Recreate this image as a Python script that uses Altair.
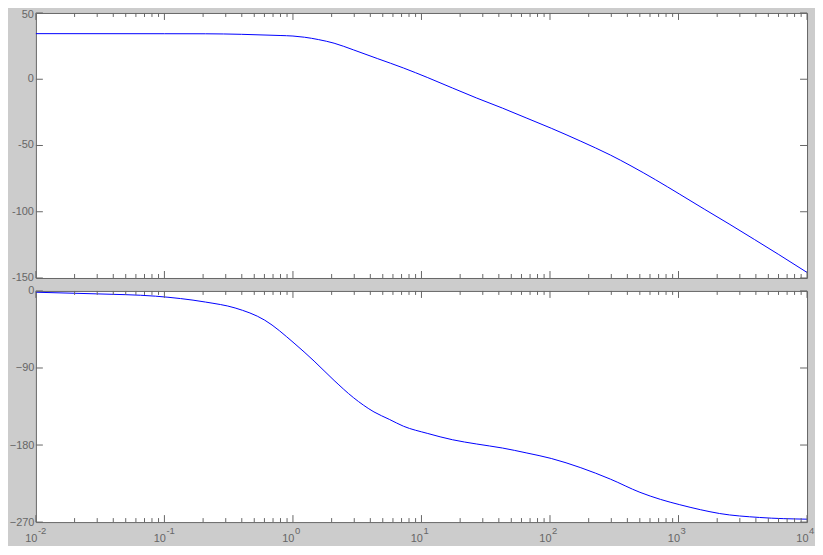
import altair as alt
import pandas as pd

# ---- data ----
mag_freq = [0.01, 0.1, 0.209, 0.398, 0.794, 1.0, 1.23, 1.585, 2.09, 2.95, 4.57, 7.24,
            11.2, 17.4, 26.9, 42.7, 66.1, 102.3, 173.8, 295, 427, 661, 1023, 1585,
            2512, 3890, 6026, 10000]
mag_db = [34.4, 34.35, 34.3, 33.9, 33.0, 32.6, 31.7, 29.9, 27.2, 22.2, 15.5, 8.5,
          1.2, -6.6, -14.2, -21.8, -29.4, -37.0, -46.8, -57.2, -65.4, -75.8, -86.8, -98.0,
          -109.6, -120.9, -132.3, -145.8]

ph_freq = [0.01, 0.0295, 0.0851, 0.209, 0.355, 0.603, 1.02, 1.46, 2.09, 2.95, 4.27, 5.62,
           7.24, 11.2, 17.4, 26.9, 42.7, 66.1, 102.3, 173.8, 295, 501, 724, 1023, 1479,
           2089, 4266, 10000]
ph_deg = [-1.5, -3.4, -6.1, -13.0, -19.9, -34.1, -60.9, -81.9, -104.5, -124.5, -141.3, -150.0,
          -158.0, -166.5, -173.8, -178.8, -183.5, -189.3, -195.7, -206.5, -219.8, -235.2, -243.5,
          -249.7, -255.5, -260.0, -264.6, -266.6]

decades = [0.01, 0.1, 1, 10, 100, 1000, 10000]
exponents = ["-2", "-1", "0", "1", "2", "3", "4"]
minor_mult = [2, 3, 4, 5, 6, 7, 8, 9]
mag_ticks = [50, 0, -50, -100, -150]
ph_ticks = [0, -90, -180, -270]

# ---- tables ----
mag_df = pd.DataFrame({"f": mag_freq, "v": mag_db})
ph_df = pd.DataFrame({"f": ph_freq, "v": ph_deg})
major_df = pd.DataFrame({"f": decades})
minor_df = pd.DataFrame({"f": [m * d for d in decades[:-1] for m in minor_mult]})
lab_df = pd.DataFrame({"f": decades, "base": ["10"] * len(decades), "e": exponents})

W, H1, H2 = 774, 266, 232
GRAY = "#666666"
FONT = "Liberation Sans"
MAJ, MIN = 7, 4

xscale = alt.Scale(type="log", domain=[0.01, 10000], nice=False)


def panel(df, dom, yt, H, use_axis):
    yscale = alt.Scale(domain=dom, nice=False, zero=False)
    if use_axis:
        yaxis = alt.Axis(values=yt, ticks=False, tickSize=0, domain=False, grid=False,
                         labelPadding=2, labelFontSize=11, labelColor=GRAY, labelFont=FONT,
                         title=None)
    else:
        yaxis = None
    X = alt.X("f:Q", scale=xscale, axis=None)
    Y = alt.Y("v:Q", scale=yscale, axis=yaxis)
    line = alt.Chart(df).mark_line(color="#0000ff", strokeWidth=1, interpolate="monotone").encode(
        x=X, y=Y)
    layers = [line]
    for d, L in ((major_df, MAJ), (minor_df, MIN)):
        base = alt.Chart(d).mark_rule(color=GRAY, strokeWidth=1).encode(x=X)
        layers.append(base.encode(y=alt.value(H), y2=alt.value(H - L)))
        layers.append(base.encode(y=alt.value(0), y2=alt.value(L)))
    yt_df = pd.DataFrame({"v": yt, "t": [str(v) for v in yt]})
    ybase = alt.Chart(yt_df).mark_rule(color=GRAY, strokeWidth=1).encode(y=Y)
    layers.append(ybase.encode(x=alt.value(0), x2=alt.value(MAJ)))
    layers.append(ybase.encode(x=alt.value(W), x2=alt.value(W - MAJ)))
    if not use_axis:
        lab = alt.Chart(yt_df).mark_text(align="right", baseline="middle", fontSize=11,
                                         color=GRAY, font=FONT)
        first = yt[0]
        layers.append(lab.transform_filter(alt.datum.v != first).encode(
            x=alt.value(-2), y=Y, text="t:N"))
        layers.append(lab.transform_filter(alt.datum.v == first).encode(
            x=alt.value(-2), y=Y, text="t:N", yOffset=alt.value(2.5)))
    return layers, X


top_layers, _ = panel(mag_df, [-150, 50], mag_ticks, H1, False)
top = alt.layer(*top_layers).properties(width=W, height=H1)

bot_layers, X = panel(ph_df, [-270, 0], ph_ticks, H2, True)
lab10 = alt.Chart(lab_df).mark_text(align="right", baseline="alphabetic", dx=1.5,
                                    fontSize=11, color=GRAY, font=FONT).encode(
    x=X, y=alt.value(H2 + 20), text="base:N")
labe = alt.Chart(lab_df).mark_text(align="left", baseline="alphabetic", dx=2,
                                   fontSize=9.5, color=GRAY, font=FONT).encode(
    x=X, y=alt.value(H2 + 12), text="e:N")
bot = alt.layer(*bot_layers, lab10, labe).properties(width=W, height=H2)

chart = alt.vconcat(top, bot, spacing=13, bounds="flush").properties(
    background="#cccccc",
    padding=0,
).configure_view(stroke=GRAY, strokeWidth=1, fill="white")

chart.save("out.html", embed_options={"renderer": "svg", "actions": False})
